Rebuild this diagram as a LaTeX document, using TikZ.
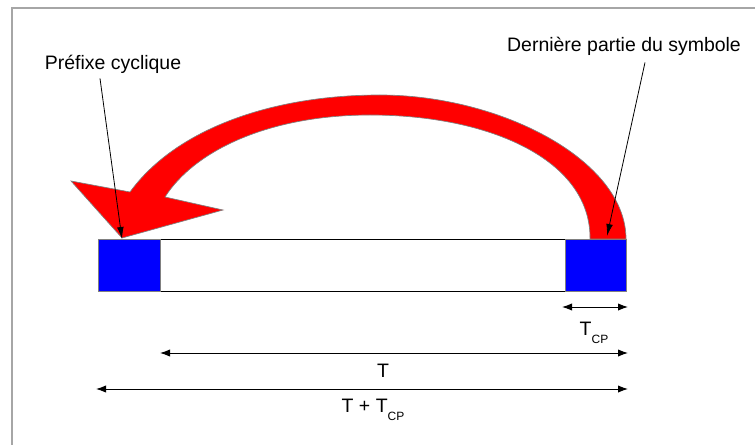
\documentclass[tikz,border=0pt]{standalone}
\usepackage{fontspec}
\setmainfont{Liberation Sans}
\usepackage{tikz}
\usetikzlibrary{positioning,arrows.meta,calc}

\begin{document}
\begin{tikzpicture}[
    x=0.75pt, y=-0.75pt,
    lbl/.style={inner sep=0pt, font=\fontsize{14.6}{17}\selectfont},
    sub/.style={font=\fontsize{9}{10}\selectfont},
    body/.style={draw=black, line width=0.7pt, fill=white, minimum width=303.75pt, minimum height=39pt, inner sep=0pt},
    cpbox/.style={draw=gray, line width=0.7pt, fill=blue, minimum width=46.5pt, minimum height=39pt, inner sep=0pt},
    dim/.style={{Latex[length=7.5pt,width=5.5pt]}-{Latex[length=7.5pt,width=5.5pt]}, line width=0.75pt},
    lead/.style={-{Latex[length=9pt,width=5pt]}, line width=0.6pt},
    bigarrow/.style={fill=red, draw=gray, line width=0.5pt, line join=miter}
]
    \useasboundingbox (0,0) rectangle (755,445);
    \draw[gray!70, line width=0.8pt] (12,445) -- (12,8) -- (755,8);

    % symbole OFDM
    \node[body] (sym) at (362.5,265) {};
    \node[cpbox] (cp) at (129,265) {};
    \node[cpbox, minimum width=45.75pt] (tail) at (595.5,265) {};

    % fleche de recopie
    \path[bigarrow] (626,239) .. controls (626,160) and (500,95) .. (380,95)
        .. controls (270,95) and (175,130) .. (130,192)
        -- (71,181) -- (122,238) -- (223,210) -- (165,197)
        .. controls (195,150) and (270,115) .. (370,115)
        .. controls (490,115) and (591,160) .. (590,239) -- cycle;

    \node[lbl] (prefix) at (113,64) {Préfixe cyclique};
    \node[lbl] (last) at (624,46) {Dernière partie du symbole};
    \coordinate (cptip) at (122,239);
    \coordinate (tailtip) at (607,236);
    \draw[lead] (prefix.south) ++(-13,5) -- (cptip);
    \draw[lead] (last.south) ++(21,7) -- (tailtip);

    % durees
    \coordinate (tcpA) at (562,307);
    \coordinate (tcpB) at (628,307);
    \coordinate (tA) at (160,353);
    \coordinate (tB) at (628,353);
    \coordinate (ttA) at (96,389);
    \coordinate (ttB) at (628,389);
    \draw[dim] (tcpA) -- (tcpB);
    \draw[dim] (tA) -- (tB);
    \draw[dim] (ttA) -- (ttB);

    \node[lbl] (tcp) at (594,333) {T\raisebox{-0.75ex}{\fontsize{9}{10}\selectfont CP}};
    \node[lbl] (t) at (383,371) {T};
    \node[lbl] (ttot) at (373,410) {T + T\raisebox{-0.75ex}{\fontsize{9}{10}\selectfont CP}};

\end{tikzpicture}
\end{document}
